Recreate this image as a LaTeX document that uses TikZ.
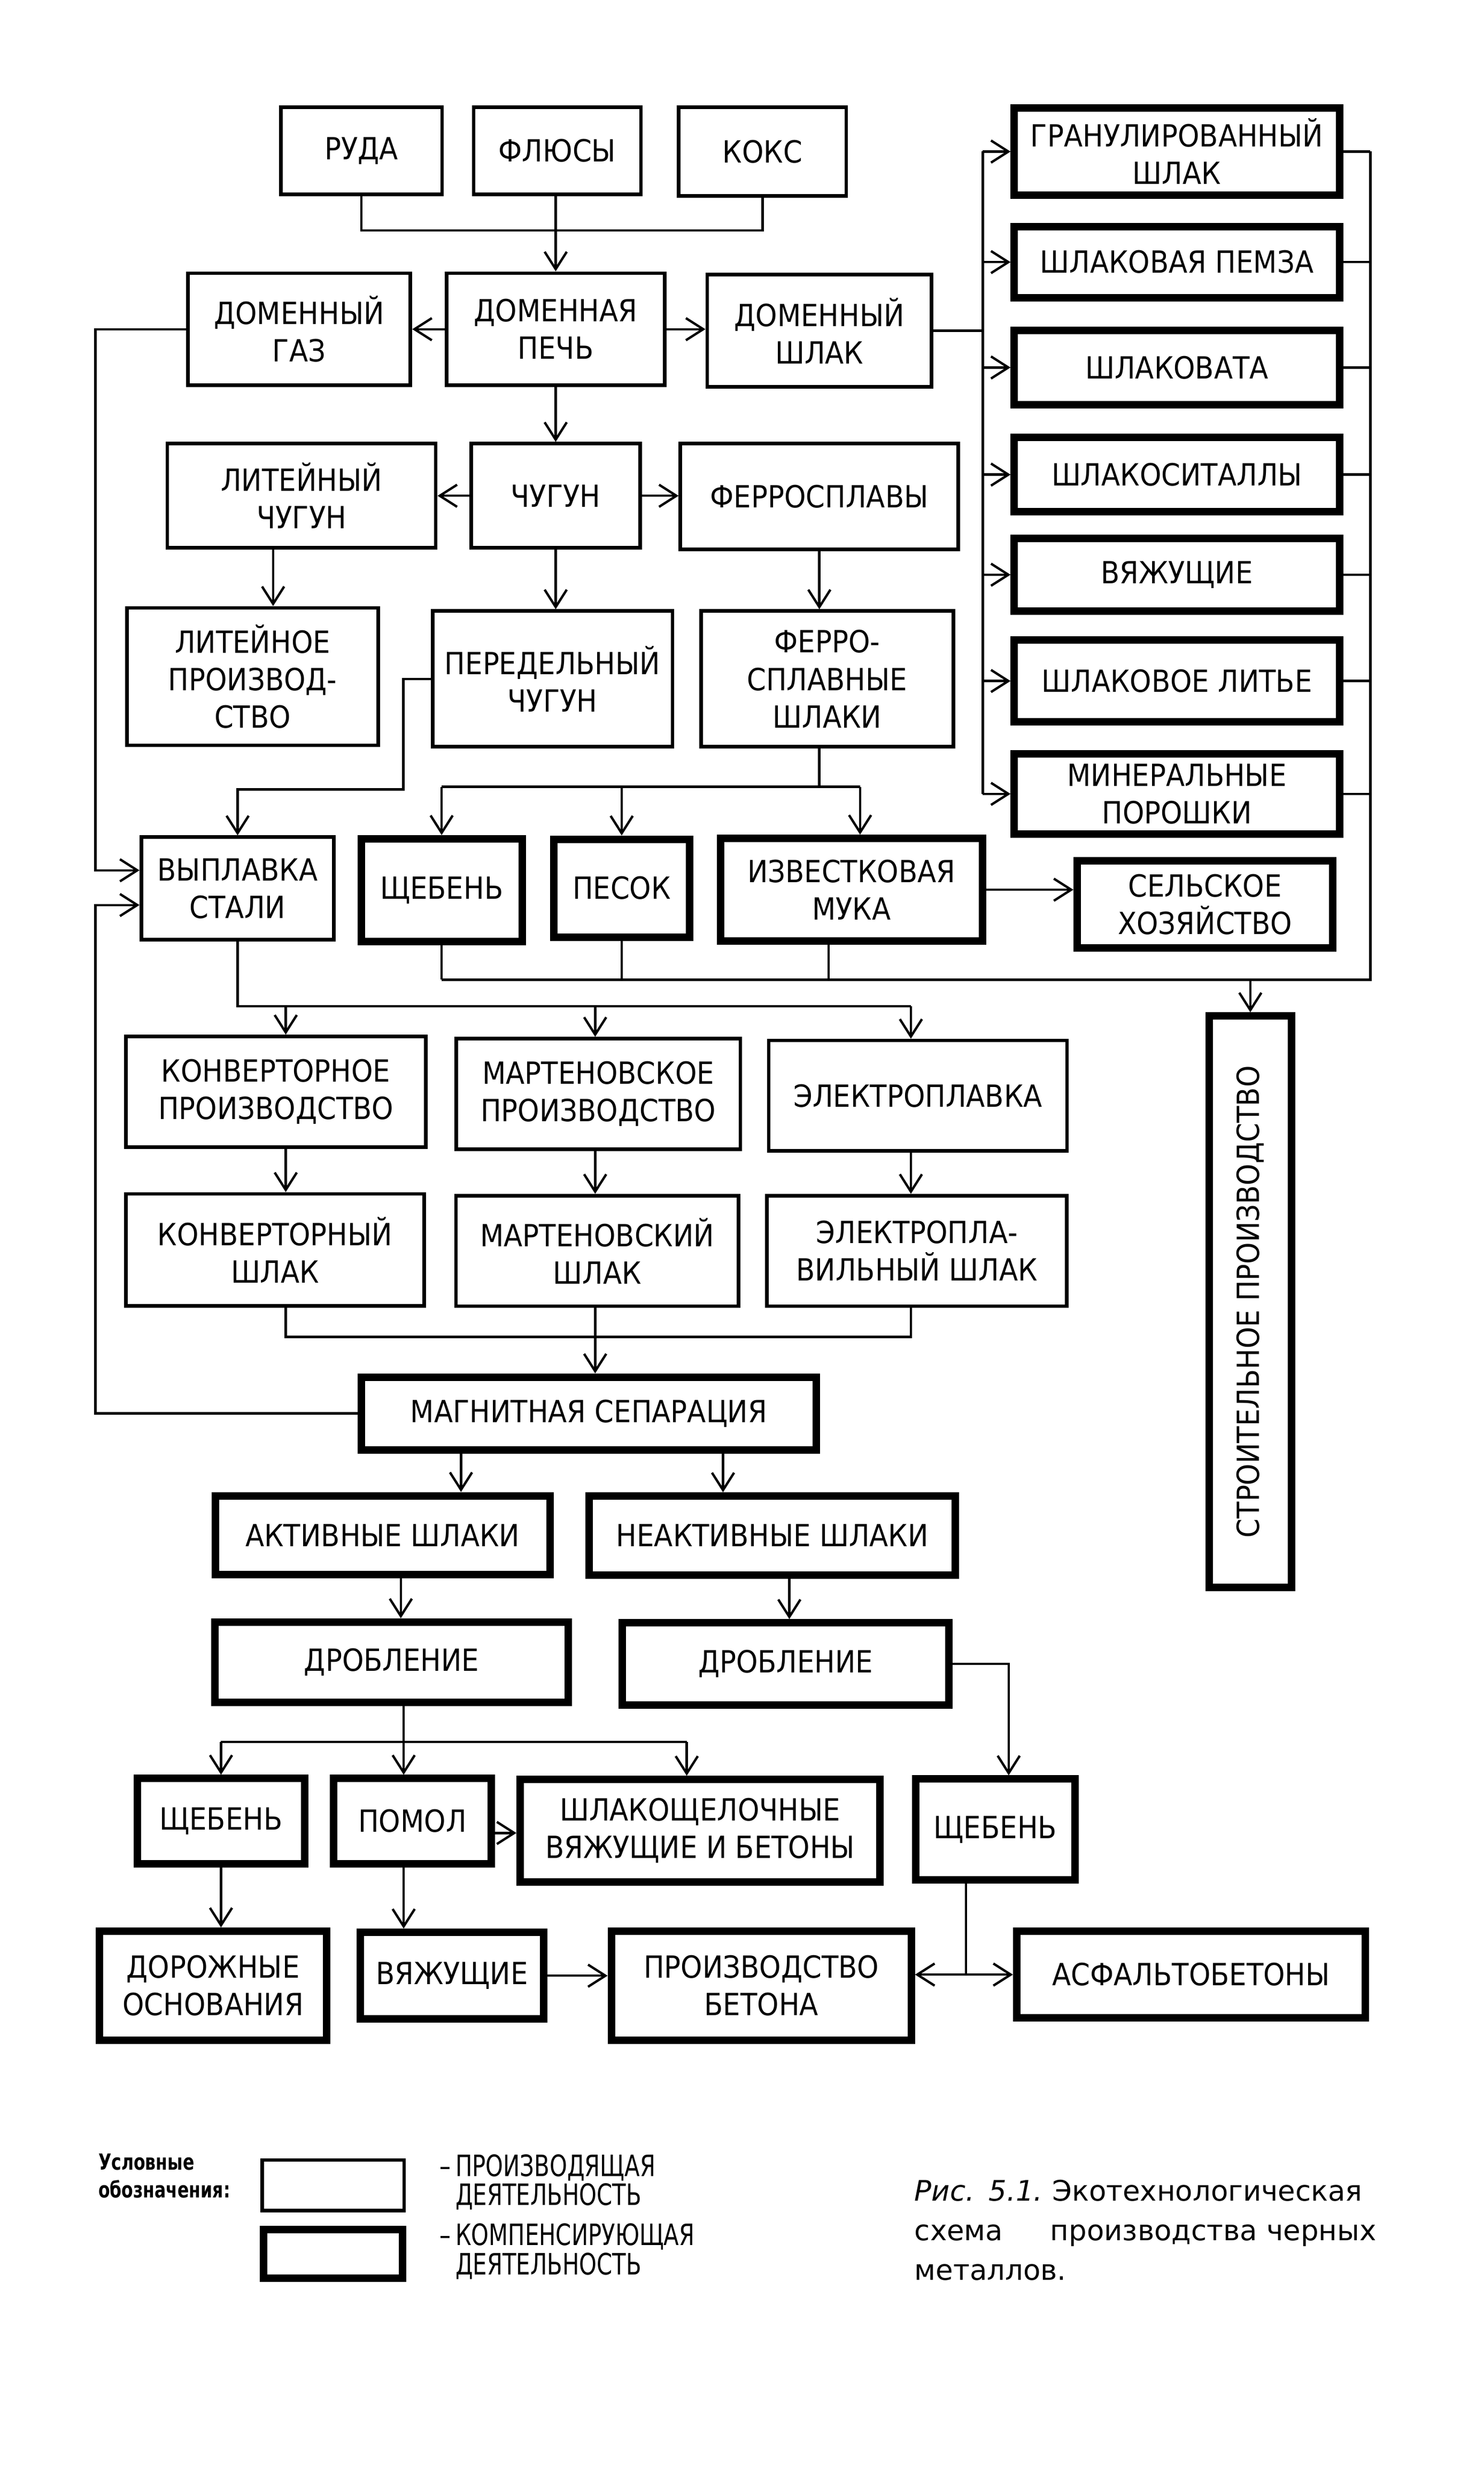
\documentclass[tikz,border=0pt]{standalone}
\usepackage{graphicx}
\usepackage{fontspec}
\setmainfont{DejaVu Sans}[FakeStretch=0.9]
\newfontfamily\capfont{DejaVu Sans}
\newfontfamily\legfont{DejaVu Sans}[FakeStretch=0.76]
\usetikzlibrary{arrows.meta}
\tikzset{every node/.style={font=\fontsize{11}{13.5}\selectfont},
  prod/.style={draw, line width=1.3pt, align=center, inner sep=1pt},% producing activity
  comp/.style={draw, line width=2.7pt, align=center, inner sep=1pt},% compensating activity
  wh/.style 2 args={minimum width=#1*0.02cm, minimum height=#2*0.02cm},
  flow/.style={line width=0.85pt},
  >={Straight Barb[length=2.2mm,width=2.8mm]}}

\begin{document}
\begin{tikzpicture}[x=0.02cm,y=-0.02cm]
\useasboundingbox (0,0) rectangle (940,1563.1);
% blast furnace part
\node[prod, wh={102}{55}] (ruda) at (229,95.5) {РУДА};
\node[prod, wh={106}{55}] (flux) at (353,95.5) {ФЛЮСЫ};
\node[prod, wh={106}{56}] (koks) at (483,96) {КОКС};
\node[prod, wh={141}{71}] (gaz) at (189.5,208.5) {ДОМЕННЫЙ\\ГАЗ};
\node[prod, wh={138}{71}] (pech) at (352,208.5) {ДОМЕННАЯ\\ПЕЧЬ};
\node[prod, wh={142}{71}] (dshlak) at (519,209.5) {ДОМЕННЫЙ\\ШЛАК};
\node[prod, wh={170}{66}] (litch) at (191,314) {ЛИТЕЙНЫЙ\\ЧУГУН};
\node[prod, wh={107}{66}] (chugun) at (352,314) {ЧУГУН};
\node[prod, wh={176}{67}] (ferro) at (519,314.5) {ФЕРРОСПЛАВЫ};
\node[prod, wh={159}{87}] (litpr) at (160,428.5) {ЛИТЕЙНОЕ\\ПРОИЗВОД-\\СТВО};
\node[prod, wh={152}{86}] (pered) at (350,430) {ПЕРЕДЕЛЬНЫЙ\\ЧУГУН};
\node[prod, wh={160}{86}] (ferroshl) at (524,430) {ФЕРРО-\\СПЛАВНЫЕ\\ШЛАКИ};
% slag products
\node[comp, wh={206}{55}] (gran) at (745.5,96) {ГРАНУЛИРОВАННЫЙ\\ШЛАК};
\node[comp, wh={206}{45}] (pemza) at (745.5,166) {ШЛАКОВАЯ ПЕМЗА};
\node[comp, wh={206}{47}] (vata) at (745.5,232.75) {ШЛАКОВАТА};
\node[comp, wh={206}{47}] (sital) at (745.5,300.6) {ШЛАКОСИТАЛЛЫ};
\node[comp, wh={206}{46}] (vyazh) at (745.5,364) {ВЯЖУЩИЕ};
\node[comp, wh={206}{52}] (lite) at (745.5,431.3) {ШЛАКОВОЕ ЛИТЬЕ};
\node[comp, wh={206}{51}] (poro) at (745.5,502.8) {МИНЕРАЛЬНЫЕ\\ПОРОШКИ};
% steel part
\node[prod, wh={122}{65}] (vypl) at (150.5,562.7) {ВЫПЛАВКА\\СТАЛИ};
\node[comp, wh={102}{65}] (scheb1) at (279.75,563.75) {ЩЕБЕНЬ};
\node[comp, wh={86}{62}] (pesok) at (393.8,562.5) {ПЕСОК};
\node[comp, wh={166}{65}] (muka) at (539.3,563.5) {ИЗВЕСТКОВАЯ\\МУКА};
\node[comp, wh={162}{55}] (selsk) at (763.3,572.85) {СЕЛЬСКОЕ\\ХОЗЯЙСТВО};
\node[comp, wh={52}{362}] (stroit) at (792,824.5) {\rotatebox{90}{СТРОИТЕЛЬНОЕ ПРОИЗВОДСТВО}};
\node[prod, wh={190}{70}] (konvpr) at (174.8,691.4) {КОНВЕРТОРНОЕ\\ПРОИЗВОДСТВО};
\node[prod, wh={180}{70}] (martpr) at (379,692.8) {МАРТЕНОВСКОЕ\\ПРОИЗВОДСТВО};
\node[prod, wh={189}{70}] (elpl) at (581.4,694) {ЭЛЕКТРОПЛАВКА};
\node[prod, wh={189}{71}] (konvsh) at (174.25,791.65) {КОНВЕРТОРНЫЙ\\ШЛАК};
\node[prod, wh={179}{70}] (martsh) at (378.35,792.25) {МАРТЕНОВСКИЙ\\ШЛАК};
\node[prod, wh={190}{70}] (elsh) at (580.8,792.25) {ЭЛЕКТРОПЛА-\\ВИЛЬНЫЙ ШЛАК};
\node[comp, wh={288}{46}] (magn) at (373,895.2) {МАГНИТНАЯ СЕПАРАЦИЯ};
\node[comp, wh={212}{50}] (aktiv) at (242.4,972.3) {АКТИВНЫЕ ШЛАКИ};
\node[comp, wh={232}{50}] (neakt) at (489.25,972.5) {НЕАКТИВНЫЕ ШЛАКИ};
\node[comp, wh={224}{51}] (drob1) at (248.1,1052.8) {ДРОБЛЕНИЕ};
\node[comp, wh={207}{52}] (drob2) at (497.7,1053.8) {ДРОБЛЕНИЕ};
\node[comp, wh={106}{54}] (scheb3) at (140,1153.4) {ЩЕБЕНЬ};
\node[comp, wh={100}{54}] (pomol) at (261.25,1153.4) {ПОМОЛ};
\node[comp, wh={228}{65}] (shlsh) at (443.5,1159.5) {ШЛАКОЩЕЛОЧНЫЕ\\ВЯЖУЩИЕ И БЕТОНЫ};
\node[comp, wh={101}{64}] (scheb4) at (630.45,1158.75) {ЩЕБЕНЬ};
\node[comp, wh={144}{69}] (dorozh) at (135,1257.6) {ДОРОЖНЫЕ\\ОСНОВАНИЯ};
\node[comp, wh={116}{55}] (vyazh2) at (286.3,1251.3) {ВЯЖУЩИЕ};
\node[comp, wh={190}{69}] (beton) at (482.25,1257.6) {ПРОИЗВОДСТВО\\БЕТОНА};
\node[comp, wh={221}{55}] (asfalt) at (754.5,1250.6) {АСФАЛЬТОБЕТОНЫ};

% junctions
\coordinate (mix) at (352,146);
\coordinate (busl) at (622.5,0);
\coordinate (busr) at (868,0);
\coordinate (colr) at (868,620.5);
\coordinate (pv) at (255.5,500);
\coordinate (fd) at (519,498.3);
\coordinate (fb) at (60.5,0);
\coordinate (k1) at (181,637.3);
\coordinate (k2) at (377,637.3);
\coordinate (k3) at (577,637.3);
\coordinate (md) at (377,846.7);
\coordinate (dd) at (255.7,1103.2);
\coordinate (mukain) at ([xshift=0.11cm]muka.north);
\coordinate (mukaout) at ([xshift=-0.29cm]muka.south);
\coordinate (vin1) at ([yshift=0.23cm]vypl.west);
\coordinate (vin2) at ([yshift=-0.21cm]vypl.west);
\coordinate (shin) at ([xshift=-0.17cm]shlsh.north);
\coordinate (s4in) at ([xshift=0.17cm]scheb4.north);
\coordinate (s4out) at ([xshift=-0.37cm]scheb4.south);
\coordinate (aj) at (s4out |- asfalt.west);

% connectors, top
\draw[flow] (ruda.south) |- (mix) -| (koks.south);
\draw[flow,->] (pech.north |- flux.south) -- (pech.north);
\draw[flow,->] (pech.west) -- (gaz.east);
\draw[flow,->] (pech.east) -- (pech.east -| dshlak.west);
\draw[flow,->] (pech.south) -- (chugun.north);
\draw[flow,->] (chugun.west) -- (chugun.west -| litch.east);
\draw[flow,->] (chugun.east) -- (chugun.east -| ferro.west);
\draw[flow,->] ([xshift=-0.36cm]litch.south) -- ([xshift=-0.36cm]litch.south |- litpr.north);
\draw[flow,->] (chugun.south) -- (chugun.south |- pered.north);
\draw[flow,->] (ferro.south) -- (ferro.south |- ferroshl.north);
% slag bus
\draw[flow] (dshlak.east) -- (dshlak.east -| busl);
\draw[flow] (busl |- gran.west) -- (busl |- poro.west);
\foreach \n in {gran,pemza,vata,sital,vyazh,lite,poro}
  \draw[flow,->] (busl |- \n.west) -- (\n.west);
\foreach \n in {gran,pemza,vata,sital,vyazh,lite,poro}
  \draw[flow] (\n.east) -- (busr |- \n.east);
\draw[flow] (busr |- gran.east) -- (colr) -- (colr -| scheb1.south);
\foreach \n in {scheb1.south,pesok.south,mukaout}
  \draw[flow] (\n) -- (\n |- colr);
\draw[flow,->] (colr -| stroit.north) -- (stroit.north);
% steel
\draw[flow,->] (pered.west) -| (pv) -| (vypl.north);
\draw[flow] (ferroshl.south -| ferro.south) -- (fd);
\draw[flow] (fd -| scheb1.north) -- (fd -| mukain);
\foreach \n in {scheb1.north,pesok.north,mukain}
  \draw[flow,->] (fd -| \n) -- (\n);
\draw[flow,->] (muka.east) -- (muka.east -| selsk.west);
\draw[flow,->] (gaz.west) -| (fb |- vin1) -- (vin1);
\draw[flow,->] (magn.west) -| (fb |- vin2) -- (vin2);
\draw[flow] (vypl.south) -- (vypl.south |- k1) -- (k3);
\draw[flow,->] (k1) -- (k1 |- konvpr.north);
\draw[flow,->] (k2) -- (k2 |- martpr.north);
\draw[flow,->] (k3) -- (k3 |- elpl.north);
\draw[flow,->] (k1 |- konvpr.south) -- (k1 |- konvsh.north);
\draw[flow,->] (k2 |- martpr.south) -- (k2 |- martsh.north);
\draw[flow,->] (k3 |- elpl.south) -- (k3 |- elsh.north);
\draw[flow] (k1 |- konvsh.south) |- (md) -| (k3 |- elsh.south);
\draw[flow] (k2 |- martsh.south) -- (md);
\draw[flow,->] (md) -- (md |- magn.north);
% slag processing
\draw[flow,->] ([xshift=-1.62cm]magn.south) -- ([xshift=-1.62cm]magn.south |- aktiv.north);
\draw[flow,->] ([xshift=1.7cm]magn.south) -- ([xshift=1.7cm]magn.south |- neakt.north);
\draw[flow,->] ([xshift=0.23cm]aktiv.south) -- ([xshift=0.23cm]aktiv.south |- drob1.north);
\draw[flow,->] ([xshift=0.215cm]neakt.south) -- ([xshift=0.215cm]neakt.south |- drob2.north);
\draw[flow] (dd |- drob1.south) -- (dd);
\draw[flow] (dd -| scheb3.north) -- (dd -| shin);
\draw[flow,->] (dd -| scheb3.north) -- (scheb3.north);
\draw[flow,->] (dd) -- (dd |- pomol.north);
\draw[flow,->] (dd -| shin) -- (shin);
\draw[flow,->] (drob2.east) -| (s4in);
\draw[flow,->] ([yshift=-0.15cm]pomol.east) -- ([yshift=-0.15cm]pomol.east -| shlsh.west);
\draw[flow,->] (scheb3.south) -- (scheb3.south |- dorozh.north);
\draw[flow,->] (dd |- pomol.south) -- (dd |- vyazh2.north);
\draw[flow,->] (vyazh2.east) -- (vyazh2.east -| beton.west);
\draw[flow] (s4out) -- (aj);
\draw[flow,->] (aj) -- (aj -| beton.east);
\draw[flow,->] (aj) -- (asfalt.west);

% legend and caption
\node[anchor=west, align=left, inner sep=0, font={\legfont\bfseries\fontsize{8}{10}\selectfont}] (lhead) at (62,1378) {Условные\\обозначения:};
\node[prod, wh={90}{32}] (lprod) at (211,1384) {};
\node[comp, wh={88}{31}] (lcomp) at (211,1427.5) {};
\node[anchor=west, align=left, inner sep=0, font={\legfont\fontsize{10.6}{9.5}\selectfont}] (ltxt1) at (278,1382) {–\,ПРОИЗВОДЯЩАЯ\\\hphantom{–\,}ДЕЯТЕЛЬНОСТЬ};
\node[anchor=west, align=left, inner sep=0, font={\legfont\fontsize{10.6}{9.5}\selectfont}] (ltxt2) at (278,1426) {–\,КОМПЕНСИРУЮЩАЯ\\\hphantom{–\,}ДЕЯТЕЛЬНОСТЬ};
\node[anchor=west, align=left, inner sep=0, text width=5.85cm, font={\capfont\fontsize{10.2}{14.2}\selectfont}] (capt) at (579,1412.5) {\textit{Рис. 5.1.}\ Экотехнологическая\\\makebox[\linewidth]{схема\hfill производства\ черных}\\металлов.};
\end{tikzpicture}
\end{document}
